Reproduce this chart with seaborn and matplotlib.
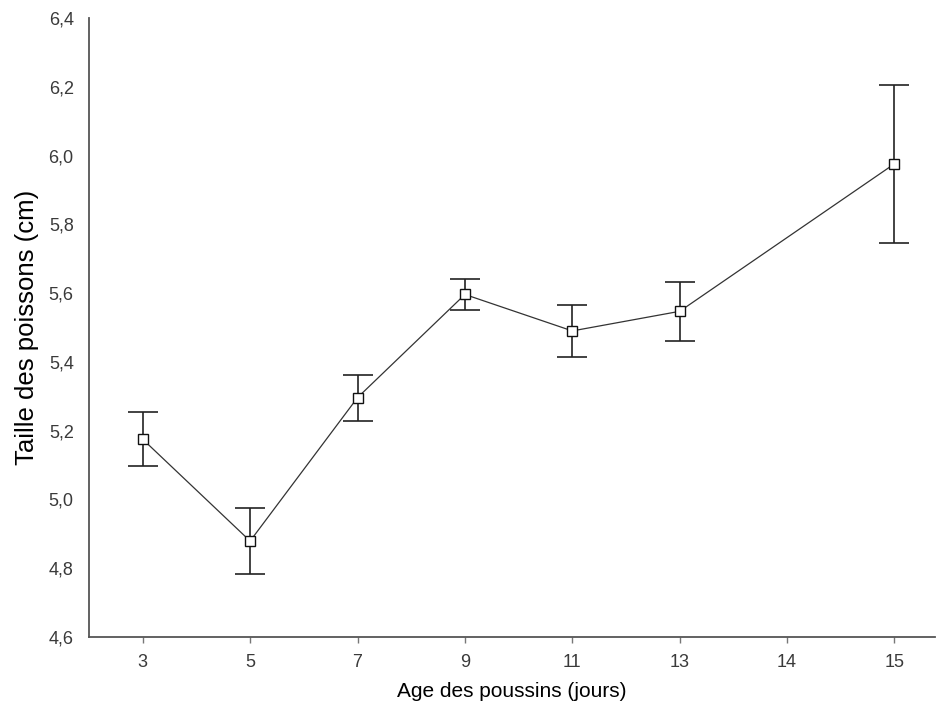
import matplotlib
matplotlib.use("Agg")
import matplotlib.pyplot as plt
import seaborn as sns
import pandas as pd

# Data
categories = ["3", "5", "7", "9", "11", "13", "14", "15"]
ages = ["3", "5", "7", "9", "11", "13", "15"]
means = [5.175, 4.879, 5.296, 5.596, 5.490, 5.547, 5.976]
errors = [0.078, 0.097, 0.067, 0.044, 0.076, 0.086, 0.230]
y_ticks = [4.6, 4.8, 5.0, 5.2, 5.4, 5.6, 5.8, 6.0, 6.2, 6.4]

sns.set_theme(style="white")
plt.rcParams["font.family"] = ["Liberation Sans", "DejaVu Sans"]

df = pd.DataFrame({"age": ages, "mean": means, "err": errors})
df["pos"] = [categories.index(a) for a in df["age"]]

fig = plt.figure(figsize=(9.4, 7.13), dpi=100)
ax = fig.add_axes([0.0947, 0.1066, 0.9003, 0.8682])

ax.errorbar(df["pos"], df["mean"], yerr=df["err"], fmt="none",
            ecolor="#222222", elinewidth=1.2, capsize=11, capthick=1.2, zorder=2)
sns.lineplot(data=df, x="pos", y="mean", ax=ax, color="#333333", linewidth=0.9,
             marker="s", markersize=7, markerfacecolor="white",
             markeredgecolor="#111111", markeredgewidth=1.0, zorder=3)

ax.set_xlim(-0.5, 7.38)
ax.set_ylim(4.6, 6.4)
ax.set_xticks(range(len(categories)))
ax.set_xticklabels(categories, fontsize=13, color="#3a3a3a")
ax.set_yticks(y_ticks)
ax.set_yticklabels([f"{v:.1f}".replace(".", ",") for v in y_ticks],
                   fontsize=13, color="#3a3a3a")

for s in ["top", "right"]:
    ax.spines[s].set_visible(False)
for s in ["left", "bottom"]:
    ax.spines[s].set_color("#555555")
    ax.spines[s].set_linewidth(1.3)

ax.tick_params(axis="x", bottom=True, length=4, width=1, color="#777777", pad=8)
ax.tick_params(axis="y", left=False, length=0, pad=11)

ax.set_xlabel("Age des poussins (jours)", fontsize=15, color="black", labelpad=8)
ax.set_ylabel("Taille des poissons (cm)", fontsize=18.5, color="black", labelpad=7)

fig.savefig("out.png", dpi=100)
